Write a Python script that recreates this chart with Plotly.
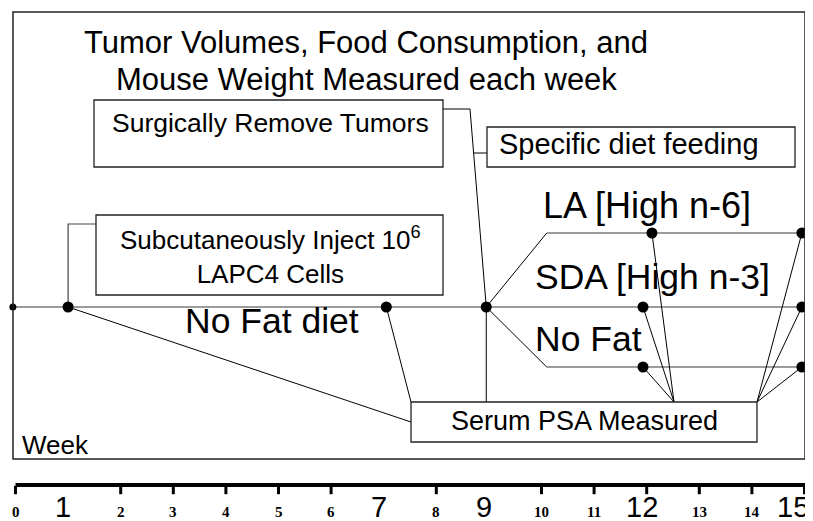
import plotly.graph_objects as go

# ---------------- data (weeks) ----------------
weeks = list(range(16))
week_labels = [str(w) for w in weeks]
big_label_weeks = [1, 7, 9, 12, 15]
tick_weeks = [w for w in weeks if w not in (1, 7, 9)]

start_week = 0
inject_week = 1.0
psa_nofat_week = 7.05
surgery_week = 8.95
branch_week = 10.1
la_weeks = [12.1, 14.95]
sda_weeks = [11.93, 14.95]
nofat_weeks = [11.93, 14.95]

title_lines = ["Tumor Volumes, Food Consumption, and", "Mouse Weight Measured each week"]
diet_labels = ["LA [High n-6]", "SDA [High n-3]", "No Fat"]
box_texts = {
    "surgery": "Surgically Remove Tumors",
    "diet": "Specific diet feeding",
    "inject": "Subcutaneously Inject 10<sup>6</sup><br>LAPC4 Cells",
    "psa": "Serum PSA Measured",
}

# ---------------- layout constants (window pixels) ----------------
W, H = 813, 521
OFF = 8                         # page body margin
PX0, PXW = 15.5, 52.6          # pixel of week 0, pixels per week


def wx(px):
    """window pixel column -> week units on the x axis"""
    return (px - PX0) / PXW


Y_BASE, Y_LA, Y_NOFAT = 307, 233, 367
SANS = "Liberation Sans, Arial, sans-serif"
SERIF = "Liberation Serif, Times New Roman, serif"
GRAY = "#7a7a7a"
EDGE = "#222222"

fig = go.Figure()


def line(xs, ys, color="black", width=1.0):
    fig.add_trace(go.Scatter(x=xs, y=ys, mode="lines", hoverinfo="skip",
                             line=dict(color=color, width=width), showlegend=False))


# lanes
line([wx(13), wx(805)], [Y_BASE, Y_BASE], GRAY, 1.6)
line([branch_week, wx(805)], [Y_LA, Y_LA], GRAY, 1.4)
line([branch_week, wx(805)], [Y_NOFAT, Y_NOFAT], GRAY, 1.4)
line([surgery_week, branch_week], [Y_BASE, Y_LA])
line([surgery_week, branch_week], [Y_BASE, Y_NOFAT])

# box geometry (pixels)
PSA = (411, 402, 757, 442)
SURG = (94, 100, 443, 167)
DIET = (487, 127, 795, 167)
INJ = (96, 215, 443, 295)

# connectors
line([inject_week, inject_week, wx(INJ[0])], [Y_BASE, 224, 224], "#444", 1.2)
line([inject_week, wx(PSA[0])], [Y_BASE, 422])
line([psa_nofat_week, wx(PSA[0])], [Y_BASE, PSA[1]])
line([wx(SURG[2]), wx(470), surgery_week], [109, 109, Y_BASE])
line([wx(473), wx(DIET[0])], [153, 153])
line([surgery_week, surgery_week], [Y_BASE, PSA[1]])
mid12 = wx(674)
for w, y in [(la_weeks[0], Y_LA), (sda_weeks[0], Y_BASE), (nofat_weeks[0], Y_NOFAT)]:
    line([w, mid12], [y, PSA[1]])
for w, y in [(la_weeks[1], Y_LA), (sda_weeks[1], Y_BASE), (nofat_weeks[1], Y_NOFAT)]:
    line([w, wx(PSA[2])], [y, PSA[1]])

# event dots
dot_x = [inject_week, psa_nofat_week, surgery_week] + la_weeks + sda_weeks + nofat_weeks
dot_y = [Y_BASE] * 3 + [Y_LA] * 2 + [Y_BASE] * 2 + [Y_NOFAT] * 2
fig.add_trace(go.Scatter(x=dot_x, y=dot_y, mode="markers", hoverinfo="skip", showlegend=False,
                         marker=dict(color="black", size=11, symbol="circle")))
fig.add_trace(go.Scatter(x=[start_week - 0.05], y=[Y_BASE], mode="markers", hoverinfo="skip",
                         showlegend=False, marker=dict(color="black", size=7)))

# timeline axis ticks
fig.add_trace(go.Scatter(x=tick_weeks, y=[490] * len(tick_weeks), mode="markers", hoverinfo="skip",
                         showlegend=False,
                         marker=dict(symbol="line-ns", size=6, line=dict(color="black", width=3))))

shapes = []
# frame
shapes.append(dict(type="rect", xref="x", yref="y", x0=wx(13), x1=wx(805), y0=12, y1=459,
                   line=dict(color=EDGE, width=1.5), fillcolor="rgba(0,0,0,0)"))
for b in (PSA, SURG, DIET, INJ):
    shapes.append(dict(type="rect", xref="x", yref="y", x0=wx(b[0]), x1=wx(b[2]), y0=b[1], y1=b[3],
                       line=dict(color=EDGE, width=1.3), fillcolor="white"))
# timeline axis line
shapes.append(dict(type="line", xref="x", yref="y", x0=weeks[0], x1=weeks[-1] + 0.03, y0=485, y1=485,
                   line=dict(color="black", width=4)))
fig.update_layout(shapes=shapes)

ann = []


def text(x, y, s, size, anchor="center", family=SANS):
    ann.append(dict(x=x, y=y, xref="x", yref="y", text=s, showarrow=False,
                    xanchor=anchor, yanchor="middle", align="center",
                    font=dict(family=family, size=size, color="black")))


# title
text(wx(366), 42, title_lines[0], 31)
text(wx(366), 79, title_lines[1], 31)
# box texts
text(wx(270), 123, box_texts["surgery"], 26.5)
text(wx(629), 144, box_texts["diet"], 29)
text(wx(270), 255, box_texts["inject"], 26)
text(wx(584), 421, box_texts["psa"], 27)
# diet labels
text(wx(541), 205, diet_labels[0], 36, "left")
text(wx(533), 277, diet_labels[1], 35.5, "left")
text(wx(533), 339, diet_labels[2], 35.5, "left")
text(wx(183), 321, "No Fat diet", 35.5, "left")
text(wx(20), 445, "Week", 26, "left")

# week tick labels
for w, lab in zip(weeks, week_labels):
    if w in big_label_weeks:
        shift = -12 if w == 15 else -5
        ann.append(dict(x=w, y=507, xref="x", yref="y", text=lab, showarrow=False,
                        xanchor="center", yanchor="middle", xshift=shift,
                        font=dict(family=SANS, size=29, color="black")))
    else:
        ann.append(dict(x=w, y=512, xref="x", yref="y", text="<b>" + lab + "</b>", showarrow=False,
                        xanchor="center", yanchor="middle",
                        font=dict(family=SERIF, size=15, color="black")))
fig.update_layout(annotations=ann)

fig.update_layout(
    width=W, height=H, margin=dict(l=0, r=0, t=0, b=0),
    paper_bgcolor="white", plot_bgcolor="white",
    xaxis=dict(range=[wx(OFF), wx(W + OFF)], visible=False, fixedrange=True),
    yaxis=dict(range=[H + OFF, OFF], visible=False, fixedrange=True),
)
fig.write_html("out.html")
